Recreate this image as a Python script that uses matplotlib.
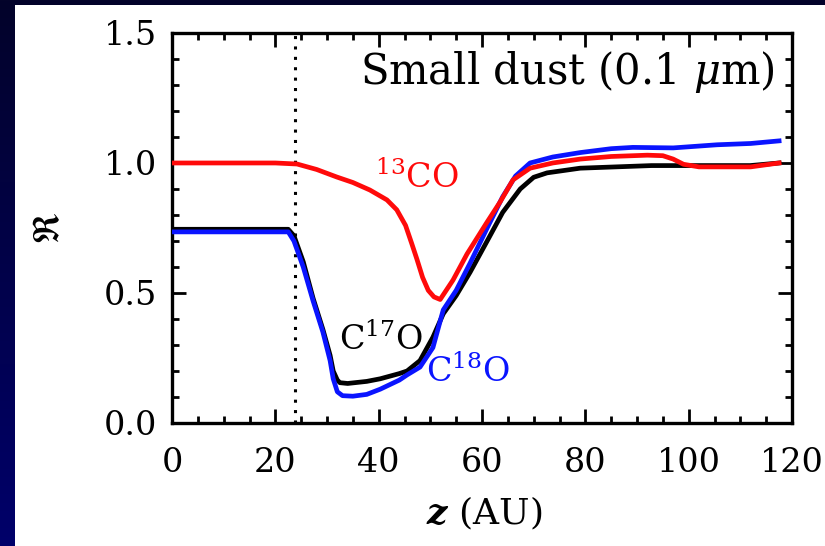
import numpy as np
import matplotlib
matplotlib.use("Agg")
from matplotlib import pyplot as plt
from matplotlib.ticker import MultipleLocator, FormatStrFormatter
from matplotlib.patches import Rectangle
from matplotlib.colors import LinearSegmentedColormap

# values
z_13co = [0, 10, 20, 24.2, 28, 31.9, 35, 38.3, 41.6, 43.5, 45.2, 46.4, 47.4, 48.5, 49.6, 50.7, 51.9, 54.4,
          57.1, 60.9, 63.5, 66, 69.3, 73.7, 79, 85, 92, 95, 97, 99, 102, 108, 112, 117.5]
r_13co = [1.0, 1.0, 1.0, 0.996, 0.975, 0.946, 0.925, 0.896, 0.858, 0.82, 0.76, 0.69, 0.63, 0.56, 0.51, 0.485,
          0.475, 0.55, 0.65, 0.77, 0.85, 0.935, 0.98, 1.0, 1.015, 1.025, 1.03, 1.028, 1.015, 0.995, 0.985,
          0.985, 0.985, 1.0]

z_c18o = [0, 10, 20, 22.5, 23.6, 25.4, 27.3, 29.2, 30.6, 31.2, 32, 33, 35, 37.7, 40.3, 44, 45.5, 48, 50.5,
          52.5, 55, 57.7, 61, 64, 66.5, 69.3, 73.7, 79, 85, 89.2, 97, 105.5, 112, 117.5]
r_c18o = [0.735, 0.735, 0.735, 0.735, 0.70, 0.60, 0.47, 0.35, 0.24, 0.17, 0.12, 0.105, 0.103, 0.11, 0.13,
          0.165, 0.185, 0.215, 0.29, 0.435, 0.51, 0.615, 0.75, 0.87, 0.95, 1.0, 1.023, 1.04, 1.055, 1.06, 1.058,
          1.07, 1.075, 1.085]

z_c17o = [0, 10, 20, 22.5, 23.6, 25.4, 27.3, 29.2, 30.6, 31.2, 32, 32.5, 34, 37.7, 40.3, 44, 45.5, 48, 50.5,
          52.5, 55, 57.7, 61, 64, 67.4, 70, 72.6, 79, 92.8, 111.9, 117.5]
r_c17o = [0.745, 0.745, 0.745, 0.745, 0.72, 0.62, 0.48, 0.36, 0.26, 0.2, 0.165, 0.155, 0.152, 0.16, 0.17,
          0.19, 0.2, 0.24, 0.33, 0.42, 0.49, 0.58, 0.70, 0.81, 0.9, 0.945, 0.962, 0.98, 0.99, 0.99, 1.0]

z_dust_edge = 23.8

red = "#ff0a0a"
blue = "#0a14ff"

plt.rcParams["font.family"] = "DejaVu Serif"
plt.rcParams["mathtext.fontset"] = "dejavuserif"

fig = plt.figure(figsize=(8.25, 5.46), dpi=100)

# dark navy slide background with a white panel
bg = fig.add_axes([0, 0, 1, 1], zorder=-2)
grad = np.linspace(0, 1, 256).reshape(-1, 1)
bg.imshow(grad, cmap=LinearSegmentedColormap.from_list("navy", ["#03032a", "#00006a"]),
          aspect="auto", extent=[0, 1, 0, 1], origin="upper")
bg.add_patch(Rectangle((15 / 825, 0), 1, 1 - 5 / 546, facecolor="white", edgecolor="none"))
bg.set_xlim(0, 1)
bg.set_ylim(0, 1)
bg.axis("off")

ax = fig.add_axes([0.2085, 0.2253, 0.7515, 0.7143])
ax.set_facecolor("none")

lw = 3.4
ax.plot(z_c17o, r_c17o, color="black", lw=lw, zorder=3, solid_joinstyle="round")
ax.plot(z_c18o, r_c18o, color=blue, lw=lw, zorder=4, solid_joinstyle="round")
ax.plot(z_13co, r_13co, color=red, lw=lw, zorder=5, solid_joinstyle="round")
ax.axvline(z_dust_edge, color="black", ls=(0, (1, 2.4)), lw=2.2)

ax.set_xlim(0, 120)
ax.set_ylim(0, 1.5)
ax.xaxis.set_major_locator(MultipleLocator(20))
ax.xaxis.set_minor_locator(MultipleLocator(5))
ax.yaxis.set_major_locator(MultipleLocator(0.5))
ax.yaxis.set_minor_locator(MultipleLocator(0.1))
ax.yaxis.set_major_formatter(FormatStrFormatter("%.1f"))
ax.tick_params(which="both", direction="in", top=True, right=True, width=2, labelsize=24)
ax.tick_params(axis="x", pad=17)
ax.tick_params(axis="y", pad=11)
ax.tick_params(which="major", length=10)
ax.tick_params(which="minor", length=5)
for s in ax.spines.values():
    s.set_linewidth(2.4)

ax.set_xlabel(r"$\boldsymbol{z}$ (AU)", fontsize=26)
ax.xaxis.set_label_coords(0.503, -0.185)
ax.set_ylabel(r"$\mathfrak{R}$", fontsize=26)
ax.yaxis.set_label_coords(-0.17, 0.5)

ax.text(0.972, 0.9, r"Small dust (0.1 $\mu$m)", transform=ax.transAxes, ha="right", va="center", fontsize=30)
ax.text(47.4, 0.905, r"$^{13}$CO", color=red, fontsize=24, ha="center", va="baseline")
ax.text(40.5, 0.28, r"C$^{17}$O", color="black", fontsize=24, ha="center", va="baseline")
ax.text(57.3, 0.158, r"C$^{18}$O", color=blue, fontsize=24, ha="center", va="baseline")

fig.savefig("out.png", dpi=100)
